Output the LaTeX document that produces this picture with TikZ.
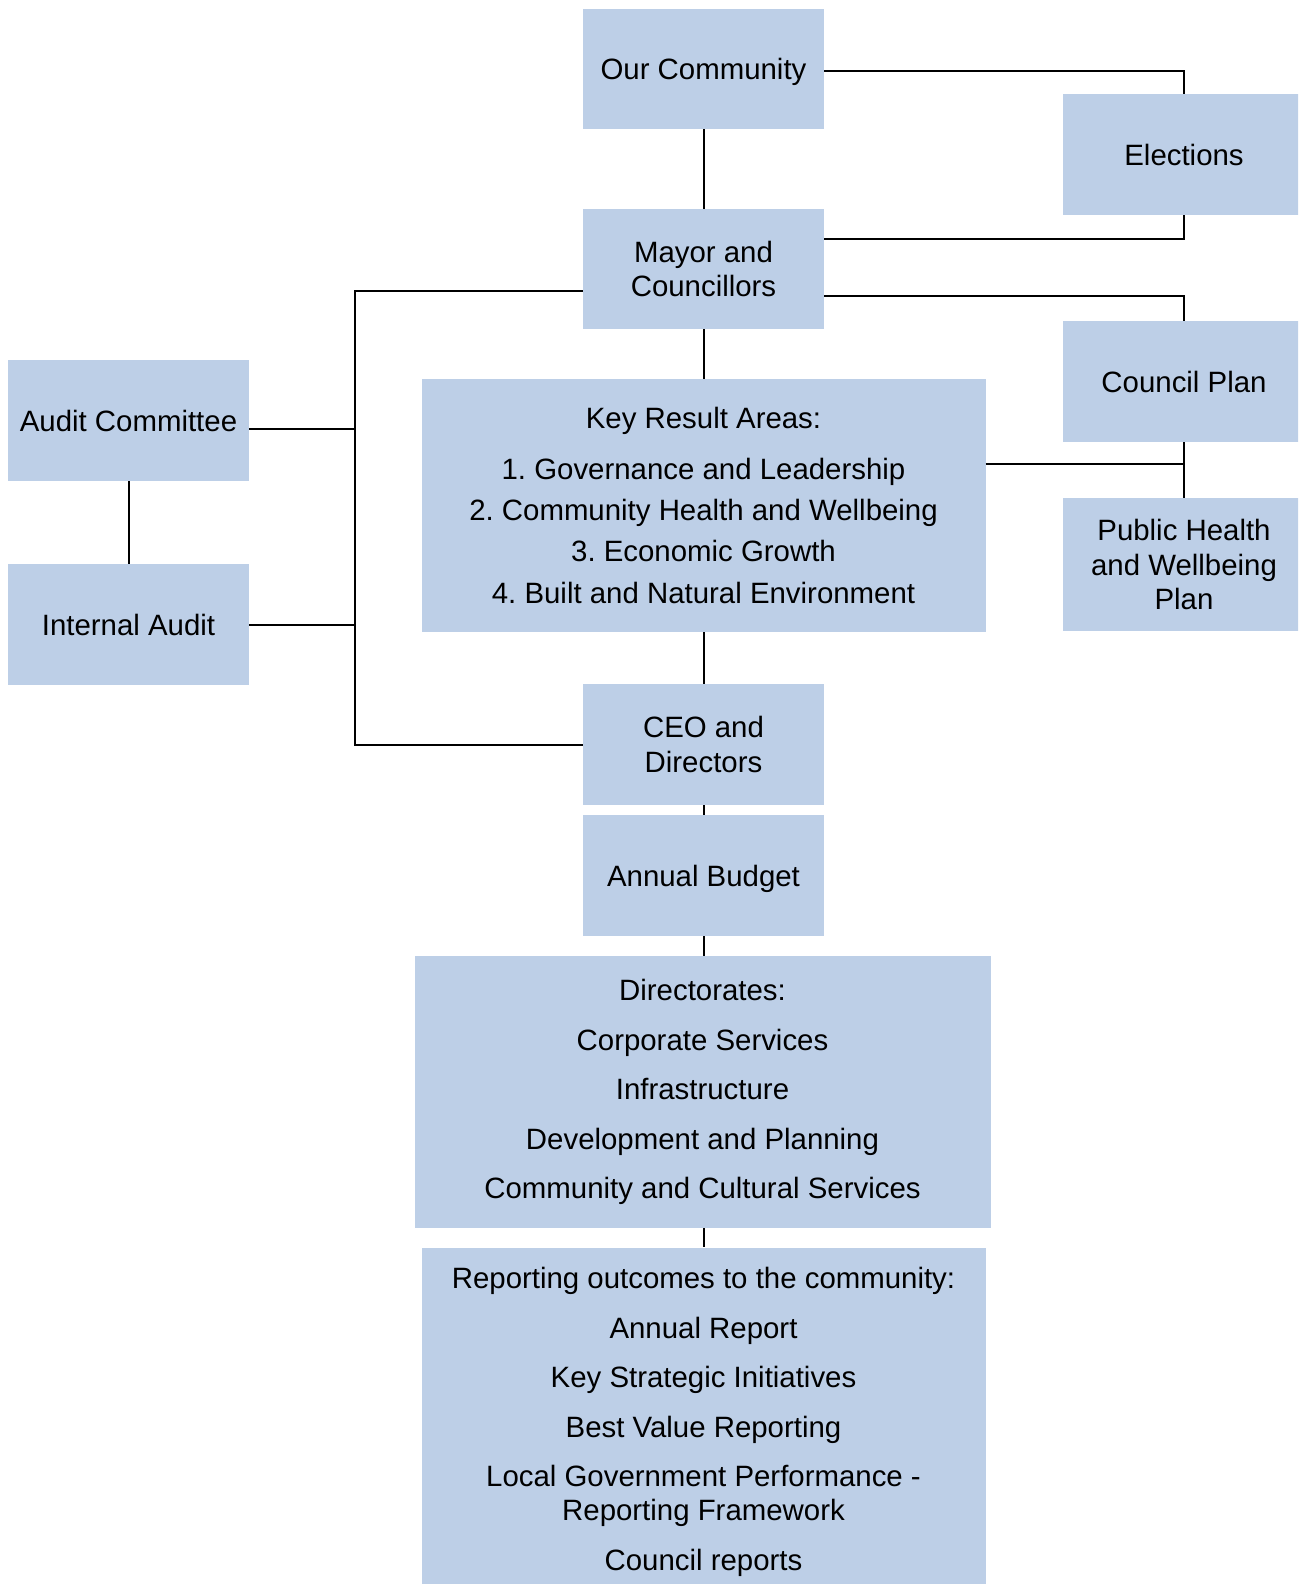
\documentclass[tikz,border=0pt]{standalone}
\usepackage{fontspec}
\setmainfont{Liberation Sans}
\frenchspacing
\definecolor{boxblue}{RGB}{189,207,231}
\begin{document}
\begin{tikzpicture}[x=1pt,y=-1pt,
  box/.style={fill=boxblue, inner sep=0pt, align=center, text=black,
    minimum width=241pt, minimum height=120pt,
    font=\fontsize{29.4}{34.4}\selectfont\frenchspacing},
  one/.style={text height=21pt, text depth=0pt},
  conn/.style={draw=black, line width=2pt}]
\useasboundingbox (0,0) rectangle (1298,1584);
\clip (0,0) rectangle (1298,1584);
\node[box, one] (OC) at (703.5,69) {Our Community};
\node[box, one, minimum width=242pt, minimum height=121pt] (EL) at (1184,154.5) {Elections};
\node[box] (MC) at (703.5,269) {Mayor and\\Councillors};
\node[box, one, minimum width=242pt, minimum height=121pt] (CP) at (1184,381.5) {Council Plan};
\node[box, one, minimum height=121pt] (AC) at (128.5,420.5) {Audit Committee};
\node[box, minimum width=564pt, minimum height=253pt] (KRA) at (703.5,505.5)
  {Key Result Areas:\\[16pt]1. Governance and Leadership\\[7pt]2. Community Health and Wellbeing\\[7pt]3. Economic Growth\\[7pt]4. Built and Natural Environment};
\node[box, minimum width=242pt, minimum height=133pt] (PH) at (1184,564.5) {Public Health\\and Wellbeing\\Plan};
\node[box, one, minimum height=121pt] (IA) at (128.5,624.5) {Internal Audit};
\node[box, minimum height=121pt] (CEO) at (703.5,744.5) {CEO and\\Directors};
\node[box, one, minimum height=121pt] (AB) at (703.5,875.5) {Annual Budget};
\node[box, minimum width=576pt, minimum height=272pt] (DIR) at (702.5,1092)
  {Directorates:\\[15pt]Corporate Services\\[15pt]Infrastructure\\[15pt]Development and Planning\\[15pt]Community and Cultural Services};
\node[box, minimum width=564pt, minimum height=349pt] (REP) at (703.5,1422)
  {Reporting outcomes to the community:\\[15pt]Annual Report\\[15pt]Key Strategic Initiatives\\[15pt]Best Value Reporting\\[15pt]Local Government Performance -\\Reporting Framework\\[15pt]Council reports};
\coordinate (bus) at (355,0);
% connectors
\draw[conn] ([yshift=-2pt]OC.east) -| (EL.north);
\draw[conn] (OC.south) -- (MC.north);
\draw[conn] ([yshift=30pt]MC.east) -| (EL.south);
\draw[conn] ([yshift=-27pt]MC.east) -| (CP.north);
\draw[conn] ([yshift=-22pt]MC.west) -| (bus |- CEO.west) -- (CEO.west);
\draw[conn] ([yshift=-8pt]AC.east) coordinate (acx) -- (acx -| bus);
\draw[conn] (IA.east) -- (IA.east -| bus);
\draw[conn] (AC.south) -- (IA.north);
\draw[conn] (MC.south) -- (KRA.north);
\draw[conn] ([yshift=41.5pt]KRA.east) coordinate (kx) -- (kx -| CP.south);
\draw[conn] (CP.south) -- (PH.north);
\draw[conn] (KRA.south) -- (CEO.north);
\draw[conn] (CEO.south) -- (AB.north);
\draw[conn] (AB.south) -- (AB.south |- DIR.north);
\draw[conn] (AB.south |- DIR.south) -- (AB.south |- REP.north);
\end{tikzpicture}
\end{document}
